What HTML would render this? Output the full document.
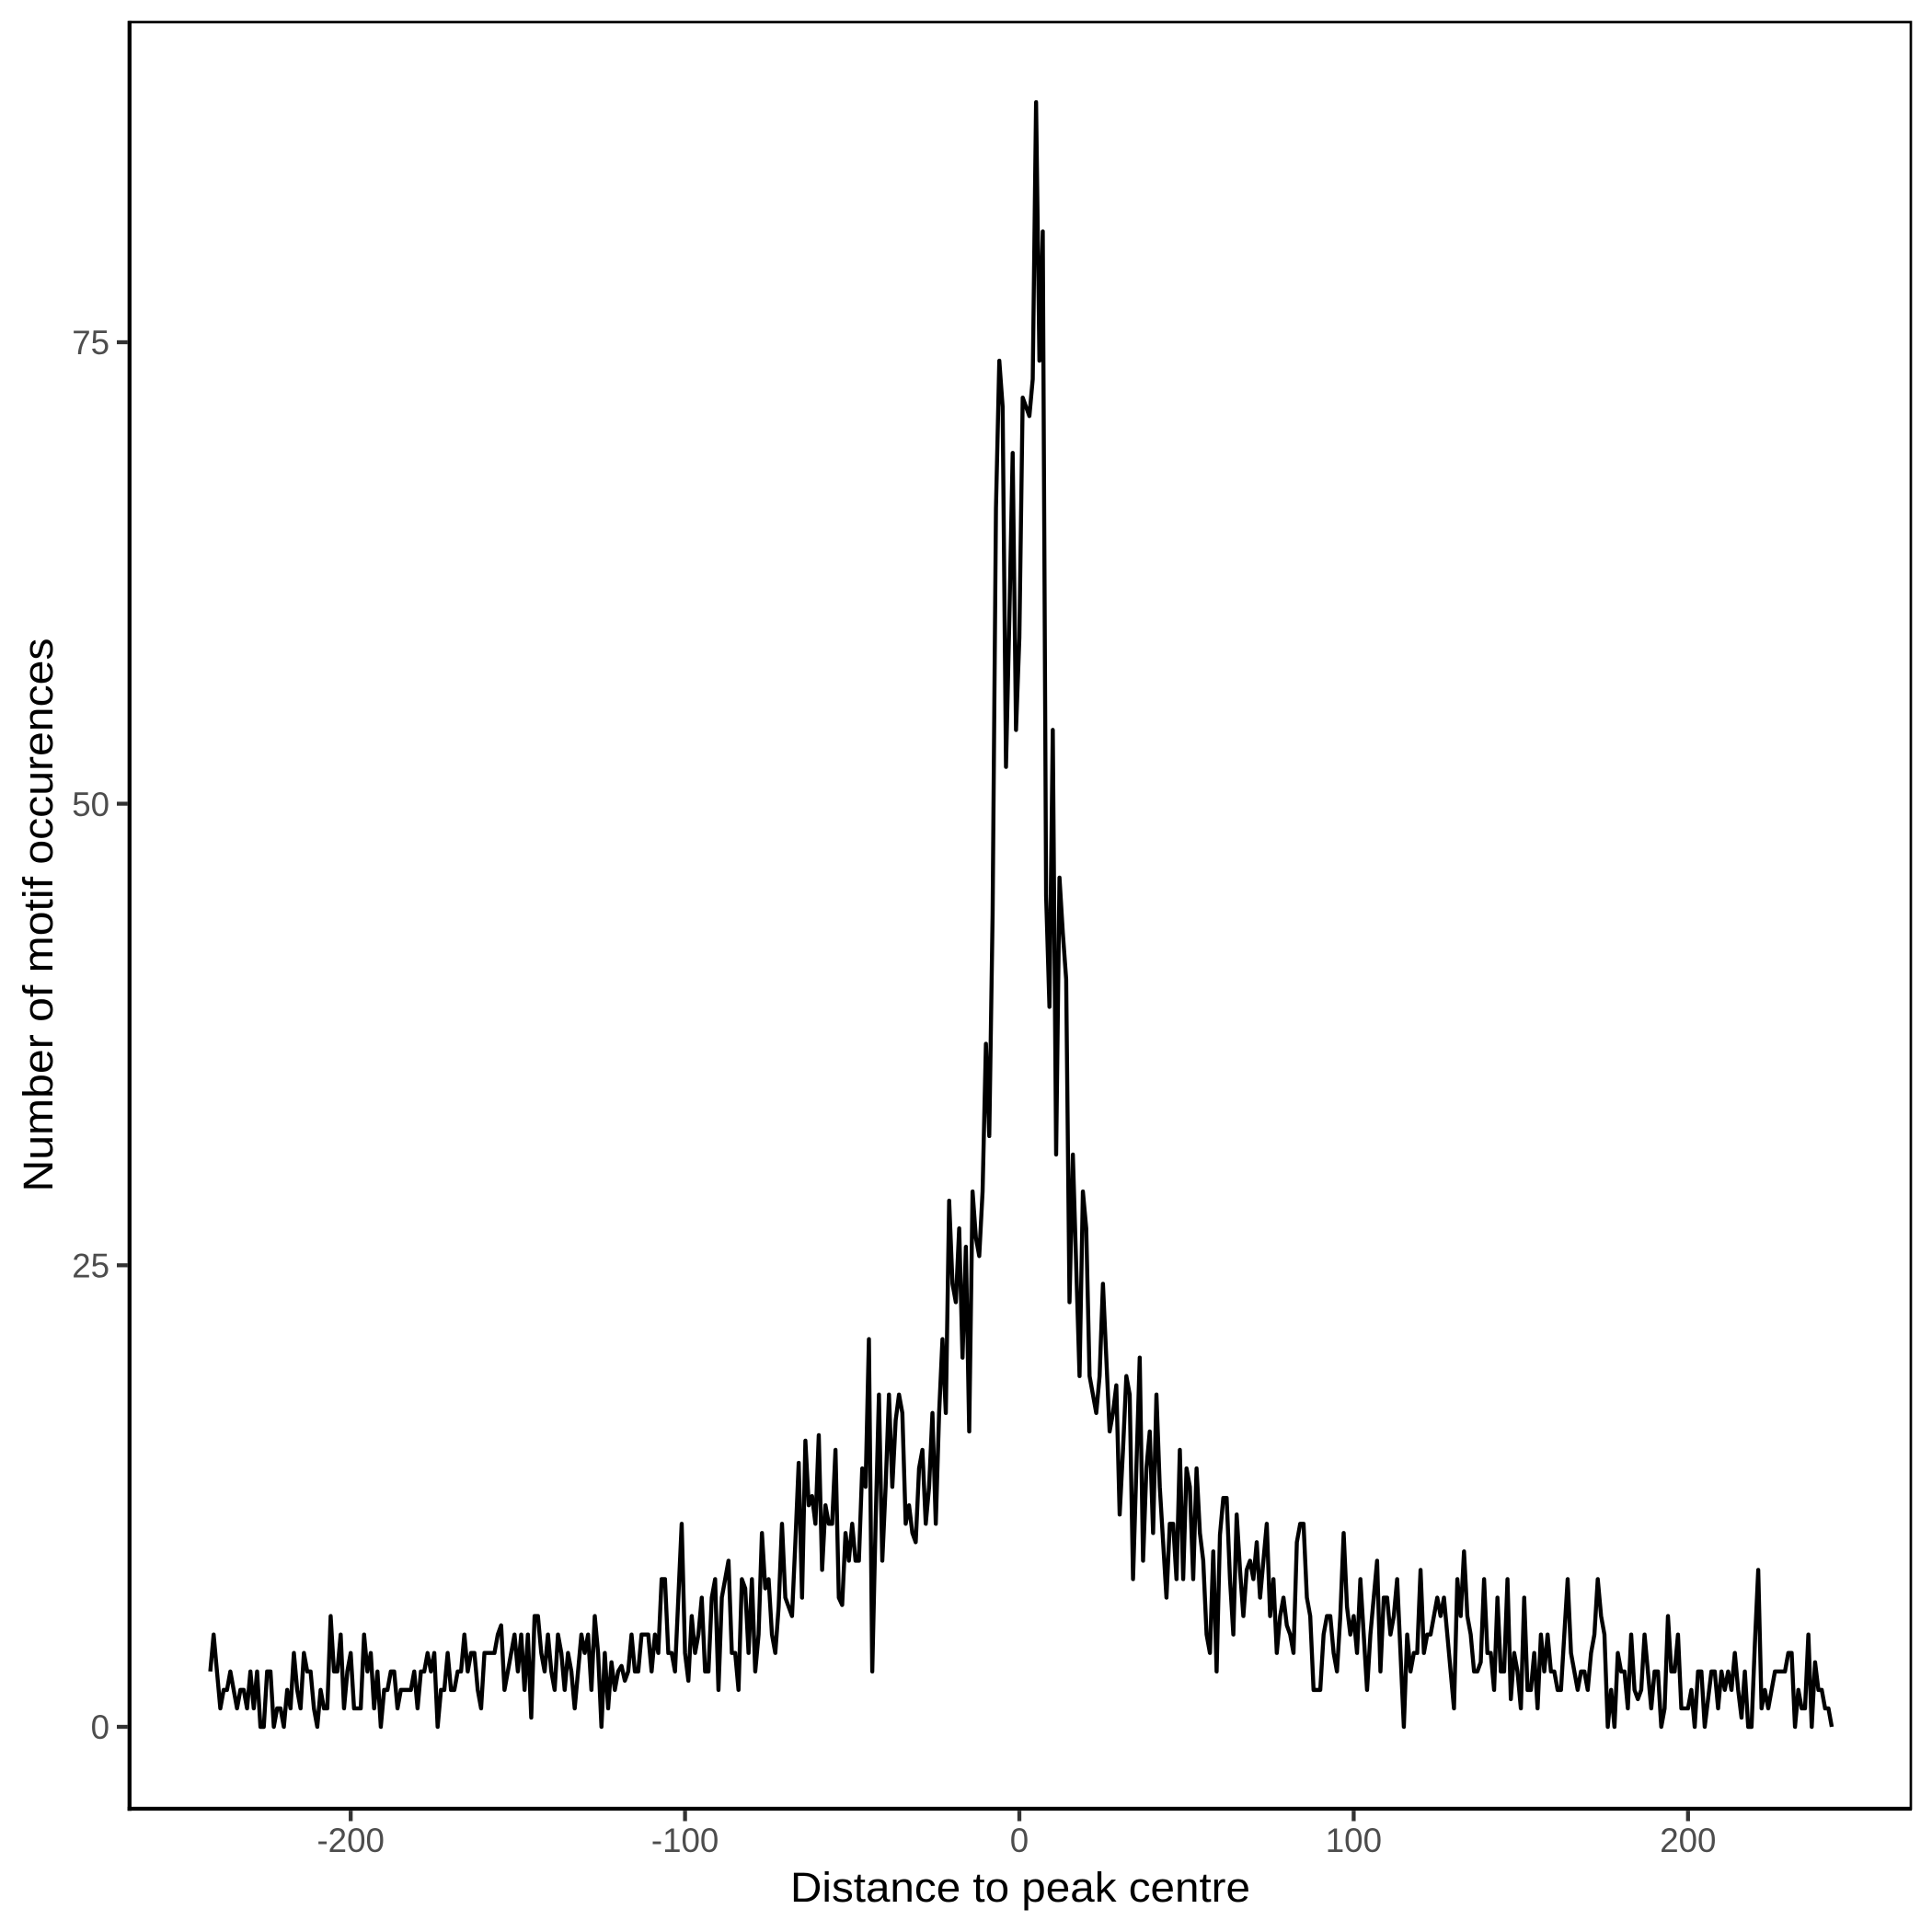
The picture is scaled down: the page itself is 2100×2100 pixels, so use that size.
<!DOCTYPE html>
<html>
<head>
<meta charset="utf-8">
<style>
  html, body { margin: 0; padding: 0; background: #ffffff; }
  svg { display: block; }
  .tl { font-family: "Liberation Sans", "DejaVu Sans", sans-serif; font-size: 36.7px; fill: #4D4D4D; }
  .tt { font-family: "Liberation Sans", "DejaVu Sans", sans-serif; font-size: 45.8px; fill: #000000; }
</style>
</head>
<body>
<svg xmlns="http://www.w3.org/2000/svg" width="2100" height="2100" viewBox="0 0 2100 2100">
  <rect x="0" y="0" width="2100" height="2100" fill="#ffffff"/>

  <!-- panel border -->
  <rect x="140.8" y="24" width="1936.2" height="1942" fill="none" stroke="#000" stroke-width="2.7"/>

  <!-- data line -->
  <polyline fill="none" stroke="#000" stroke-width="4.4" stroke-linejoin="round" stroke-linecap="butt" vector-effect="non-scaling-stroke"
    transform="translate(1108,1877) scale(3.634,-20.067)"
    points="-242,3 -241,5 -240,3 -239,1 -238,2 -237,2 -236,3 -235,2 -234,1 -233,2 -232,2 -231,1 -230,3 -229,1 -228,3 -227,0 -226,0 -225,3 -224,3 -223,0 -222,1 -221,1 -220,0 -219,2 -218,1 -217,4 -216,2 -215,1 -214,4 -213,3 -212,3 -211,1 -210,0 -209,2 -208,1 -207,1 -206,6 -205,3 -204,3 -203,5 -202,1 -201,3 -200,4 -199,1 -198,1 -197,1 -196,5 -195,3 -194,4 -193,1 -192,3 -191,0 -190,2 -189,2 -188,3 -187,3 -186,1 -185,2 -184,2 -183,2 -182,2 -181,3 -180,1 -179,3 -178,3 -177,4 -176,3 -175,4 -174,0 -173,2 -172,2 -171,4 -170,2 -169,2 -168,3 -167,3 -166,5 -165,3 -164,4 -163,4 -162,2 -161,1 -160,4 -159,4 -158,4 -157,4 -156,5 -155,5.5 -154,2 -153,3 -152,4 -151,5 -150,3 -149,5 -148,2 -147,5 -146,0.5 -145,6 -144,6 -143,4 -142,3 -141,5 -140,3 -139,2 -138,5 -137,4 -136,2 -135,4 -134,3 -133,1 -132,3 -131,5 -130,4 -129,5 -128,2 -127,6 -126,4 -125,0 -124,4 -123,1 -122,3.5 -121,2 -120,3 -119,3.3 -118,2.5 -117,3 -116,5 -115,3 -114,3 -113,5 -112,5 -111,5 -110,3 -109,5 -108,4 -107,8 -106,8 -105,4 -104,4 -103,3 -102,7 -101,11 -100,4 -99,2.5 -98,6 -97,4 -96,5 -95,7 -94,3 -93,3 -92,7 -91,8 -90,2 -89,7 -88,8 -87,9 -86,4 -85,4 -84,2 -83,8 -82,7.5 -81,4 -80,8 -79,3 -78,5 -77,10.5 -76,7.5 -75,8 -74,5 -73,4 -72,6.5 -71,11 -70,7 -69,6.5 -68,6 -67,10 -66,14.3 -65,7 -64,15.5 -63,12 -62,12.5 -61,11 -60,15.8 -59,8.5 -58,12 -57,11 -56,11 -55,15 -54,7 -53,6.6 -52,10.5 -51,9 -50,11 -49,9 -48,9 -47,14 -46,13 -45,21 -44,3 -43,11 -42,18 -41,9 -40,13 -39,18 -38,13 -37,16.6 -36,18 -35,17 -34,11 -33,12 -32,10.5 -31,10 -30,14 -29,15 -28,11 -27,13 -26,17 -25,11 -24,17 -23,21 -22,17 -21,28.5 -20,24 -19,23 -18,27 -17,20 -16,26 -15,16 -14,29 -13,26.5 -12,25.5 -11,29 -10,37 -9,32 -8,44 -7,66 -6,74 -5,71.5 -4,52 -3,60 -2,69 -1,54 0,59 1,72 2,71.5 3,71 4,73 5,88 6,74 7,81 8,45 9,39 10,54 11,31 12,46 13,43 14,40.5 15,23 16,31 17,25 18,19 19,29 20,27 21,19 22,18 23,17 24,19 25,24 26,20 27,16 28,17 29,18.5 30,11.5 31,15 32,19 33,18 34,8 35,14 36,20 37,9 38,14 39,16 40,10.5 41,18 42,13 43,10 44,7 45,11 46,11 47,8 48,15 49,8 50,14 51,13 52,8 53,14 54,10.5 55,9 56,5 57,4 58,9.5 59,3 60,10.4 61,12.4 62,12.4 63,8 64,5 65,11.5 66,8.5 67,6 68,8.5 69,9 70,8 71,10 72,7 73,9 74,11 75,6 76,8 77,4 78,6 79,7 80,5.5 81,5 82,4 83,10 84,11 85,11 86,7 87,6 88,2 89,2 90,2 91,5 92,6 93,6 94,4 95,3 96,6 97,10.5 98,6.5 99,5 100,6 101,4 102,8 103,5 104,2 105,5 106,7 107,9 108,3 109,7 110,7 111,5 112,6 113,8 114,4 115,0 116,5 117,3 118,4 119,4 120,8.5 121,4 122,5 123,5 124,6 125,7 126,6 127,7 128,5 129,3 130,1 131,8 132,6 133,9.5 134,6 135,5 136,3 137,3 138,3.5 139,8 140,4 141,4 142,2 143,7 144,3 145,3 146,8 147,1.5 148,4 149,3 150,1 151,7 152,2 153,2 154,4 155,1 156,5 157,3 158,5 159,3 160,3 161,2 162,2 163,5 164,8 165,4 166,3 167,2 168,3 169,3 170,2 171,4 172,5 173,8 174,6 175,5 176,0 177,2 178,0 179,4 180,3 181,3 182,1 183,5 184,2 185,1.5 186,2 187,5 188,3 189,1 190,3 191,3 192,0 193,1 194,6 195,3 196,3 197,5 198,1 199,1 200,1 201,2 202,0 203,3 204,3 205,0 206,1.5 207,3 208,3 209,1 210,3 211,2 212,3 213,2 214,4 215,2 216,0.5 217,3 218,0 219,0 220,4.5 221,8.5 222,1 223,2 224,1 225,2 226,3 227,3 228,3 229,3 230,4 231,4 232,0 233,2 234,1 235,1 236,5 237,0 238,3.5 239,2 240,2 241,1 242,1 243,0"/>

  <!-- axis lines -->
  <line x1="140.8" y1="22.7" x2="140.8" y2="1968.2" stroke="#000" stroke-width="4.3"/>
  <line x1="138.6" y1="1966" x2="2078" y2="1966" stroke="#000" stroke-width="4.3"/>

  <!-- y ticks -->
  <g stroke="#333333" stroke-width="4.3">
    <line x1="127" y1="1877" x2="138.6" y2="1877"/>
    <line x1="127" y1="1375.3" x2="138.6" y2="1375.3"/>
    <line x1="127" y1="873.6" x2="138.6" y2="873.6"/>
    <line x1="127" y1="372" x2="138.6" y2="372"/>
  </g>
  <!-- x ticks -->
  <g stroke="#333333" stroke-width="4.3">
    <line x1="381.2" y1="1968.2" x2="381.2" y2="1979.5"/>
    <line x1="744.6" y1="1968.2" x2="744.6" y2="1979.5"/>
    <line x1="1108" y1="1968.2" x2="1108" y2="1979.5"/>
    <line x1="1471.4" y1="1968.2" x2="1471.4" y2="1979.5"/>
    <line x1="1834.8" y1="1968.2" x2="1834.8" y2="1979.5"/>
  </g>

  <!-- y tick labels -->
  <g class="tl" text-anchor="end">
    <text x="119" y="1890.2">0</text>
    <text x="119" y="1388.5">25</text>
    <text x="119" y="886.8">50</text>
    <text x="119" y="385.2">75</text>
  </g>
  <!-- x tick labels -->
  <g class="tl" text-anchor="middle">
    <text x="381.2" y="2013">-200</text>
    <text x="744.6" y="2013">-100</text>
    <text x="1108" y="2013">0</text>
    <text x="1471.4" y="2013">100</text>
    <text x="1834.8" y="2013">200</text>
  </g>

  <!-- axis titles -->
  <text class="tt" x="859" y="2067" textLength="500" lengthAdjust="spacingAndGlyphs">Distance to peak centre</text>
  <text class="tt" transform="translate(57,994.5) rotate(-90)" x="-301" y="0" textLength="602" lengthAdjust="spacingAndGlyphs">Number of motif occurences</text>
</svg>
</body>
</html>
